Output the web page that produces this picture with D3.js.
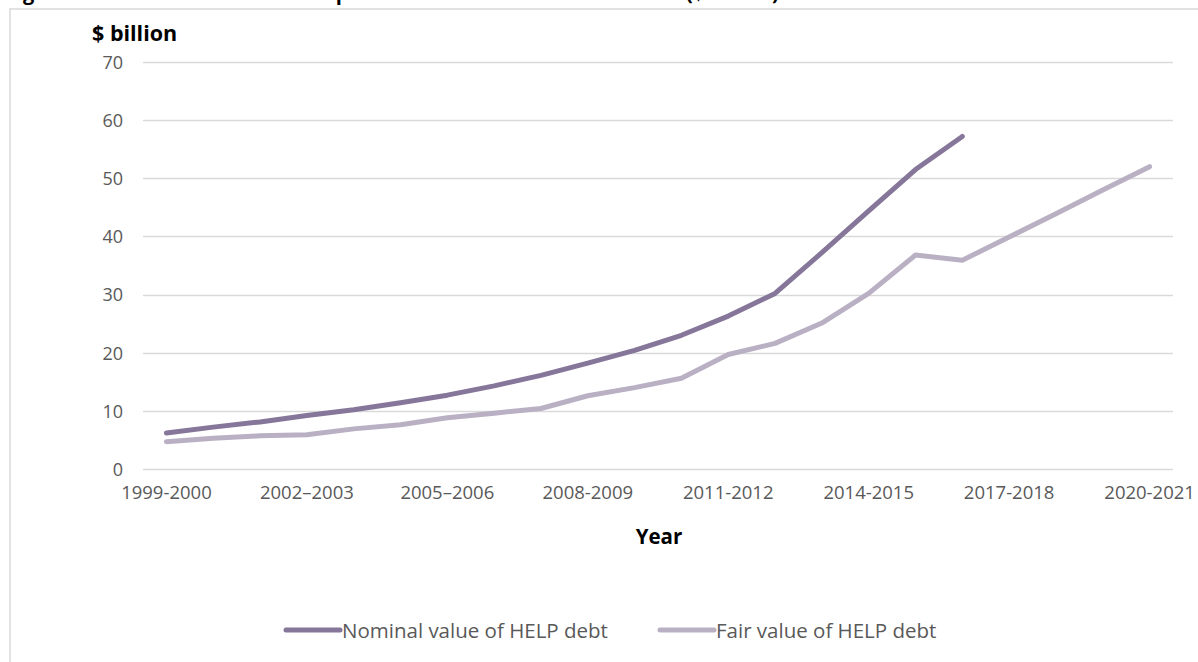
<!DOCTYPE html>
<html>
<head>
<meta charset="utf-8">
<script src="https://cdn.jsdelivr.net/npm/d3@7"></script>
<style>
  html, body { margin: 0; padding: 0; background: #fff; }
  svg { display: block; font-family: "Open Sans", Lato, sans-serif; }
</style>
</head>
<body>
<svg id="chart" width="1198" height="662"></svg>
<script>
const years = ["1999-2000","2000-2001","2001-2002","2002–2003","2003-2004","2004-2005","2005–2006","2006-2007","2007-2008","2008-2009","2009-2010","2010-2011","2011-2012","2012-2013","2013-2014","2014-2015","2015-2016","2016-2017","2017-2018","2018-2019","2019-2020","2020-2021"];
const nominal = [6.2,7.2,8.1,9.2,10.2,11.4,12.7,14.3,16.1,18.2,20.4,23.0,26.3,30.2,37.2,44.4,51.5,57.2,null,null,null,null];
const fair = [4.7,5.3,5.7,5.9,6.9,7.6,8.8,9.6,10.4,12.6,14.0,15.6,19.7,21.6,25.1,30.2,36.8,35.9,39.9,43.9,48.0,52.0];
const yTicks = [0,10,20,30,40,50,60,70];
const xTickLabels = ["1999-2000","2002–2003","2005–2006","2008-2009","2011-2012","2014-2015","2017-2018","2020-2021"];
const seriesNames = ["Nominal value of HELP debt","Fair value of HELP debt"];
const colors = ["#85769a","#b9b0c4"];

const svg = d3.select("#chart");

// title (cut off at the top edge in the reference)
svg.append("text").attr("x", 6).attr("y", 0)
  .attr("font-size", 20).attr("font-weight", "bold").attr("fill", "#000")
  .text("Figure 5: Nominal HELP debt compared with its estimated fair value ($ billion)");

// outer frame
svg.append("path")
  .attr("d", "M10,662 L10,9 L1198,9")
  .attr("fill", "none").attr("stroke", "#d9d9d9").attr("stroke-width", 1.5);

const x = d3.scaleBand().domain(years).range([143, 1173]).padding(0);
const y = d3.scaleLinear().domain([0, 70]).range([469, 62]);
const cx = d => x(d) + x.bandwidth() / 2;

// gridlines
svg.append("g").selectAll("line").data(yTicks).join("line")
  .attr("x1", 143).attr("x2", 1173)
  .attr("y1", d => Math.round(y(d)) + 0.5).attr("y2", d => Math.round(y(d)) + 0.5)
  .attr("stroke", "#d9d9d9").attr("stroke-width", 1.5);

// y axis labels
const yAxis = d3.axisLeft(y).tickValues(yTicks).tickSize(0).tickPadding(0);
const gy = svg.append("g").attr("transform", "translate(123,0)").call(yAxis);
gy.select(".domain").remove();
gy.selectAll("text").attr("font-size", 18).attr("fill", "#595959")
  .attr("font-family", "'Open Sans', sans-serif").attr("dy", "0.35em");

// x axis labels
const xAxis = d3.axisBottom(x).tickValues(xTickLabels).tickSize(0).tickPadding(0);
const gx = svg.append("g").call(xAxis);
gx.select(".domain").remove();
gx.selectAll("text").attr("font-size", 18.5).attr("fill", "#595959")
  .attr("font-family", "'Open Sans', sans-serif").attr("y", 499).attr("dy", 0);

// lines
const line = d3.line()
  .defined(d => d.v != null)
  .x(d => cx(d.year)).y(d => y(d.v));

[nominal, fair].forEach((vals, i) => {
  const data = years.map((yr, j) => ({year: yr, v: vals[j]}));
  svg.append("path").datum(data)
    .attr("d", line)
    .attr("fill", "none").attr("stroke", colors[i])
    .attr("stroke-width", 5).attr("stroke-linecap", "round").attr("stroke-linejoin", "round");
});

// axis titles
svg.append("text").attr("x", 92).attr("y", 41)
  .attr("font-size", 21.5).attr("font-weight", "bold").attr("fill", "#000").text("$ billion");
svg.append("text").attr("x", 659).attr("y", 544).attr("text-anchor", "middle")
  .attr("font-size", 20.5).attr("font-weight", "bold").attr("fill", "#000").text("Year");

// legend
const legendX = [286, 660];
seriesNames.forEach((name, i) => {
  const g = svg.append("g").attr("transform", `translate(${legendX[i]},630)`);
  g.append("line").attr("x1", 0).attr("x2", 54).attr("y1", 0).attr("y2", 0)
    .attr("stroke", colors[i]).attr("stroke-width", 5).attr("stroke-linecap", "round");
  g.append("text").attr("x", 56).attr("y", 7.5).attr("font-size", 20.5)
    .attr("fill", "#595959").text(name);
});
</script>
</body>
</html>
